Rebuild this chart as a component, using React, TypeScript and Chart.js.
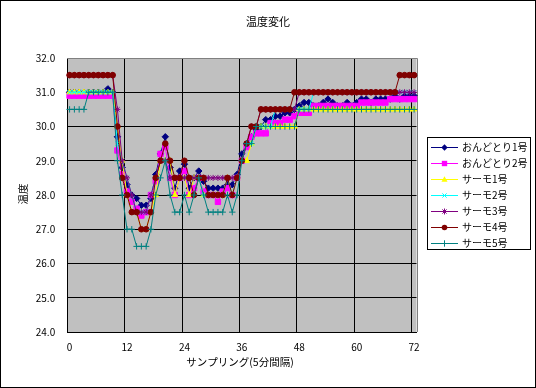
import React, { useEffect, useRef } from 'react';
import { Chart, registerables } from 'chart.js';

Chart.register(...registerables);

const categories: string[] = Array.from({ length: 73 }, (_, i) => String(i));

const seriesNames = ['おんどとり1号', 'おんどとり2号', 'サーモ1号', 'サーモ2号', 'サーモ3号', 'サーモ4号', 'サーモ5号'];
const seriesColors = ['#000080', '#FF00FF', '#FFFF00', '#00FFFF', '#800080', '#800000', '#008080'];
const seriesMarkers = ['rectRot', 'rect', 'triangle', 'crossRot', 'star', 'circle', 'cross'];
const markerRadius = [3.2, 3.8, 3.2, 3, 3, 2.8, 3.2];

const ondotori1 = [
  31.0, 31.0, 31.0, 31.0, 31.0, 31.0, 31.0, 31.0, 31.1, 31.0,
  29.7, 28.8, 28.3, 28.0, 27.9, 27.7, 27.7, 27.9, 28.6, 29.2, 29.7, 28.8, 28.2, 28.7, 28.9,
  28.2, 28.5, 28.7, 28.4, 28.2, 28.2, 28.2, 28.2, 28.3, 28.3, 28.6,
  29.2, 29.5, 29.7, 29.9, 30.0, 30.2, 30.2, 30.3, 30.3, 30.4, 30.4, 30.5, 30.6, 30.7, 30.7,
  30.6, 30.6, 30.7, 30.8, 30.7, 30.6, 30.6, 30.7, 30.6, 30.7, 30.8, 30.8, 30.7, 30.8, 30.8,
  30.8, 30.8, 30.9, 30.8, 30.9, 30.9, 30.9,
];
const ondotori2 = [
  30.9, 30.9, 30.9, 30.9, 30.9, 30.9, 30.9, 30.9, 30.9, 30.9,
  29.3, 28.6, 28.1, 27.8, 27.6, 27.4, 27.5, 28.0, 28.4, 29.2, 29.4, 28.5, 28.0, 28.5, 28.7,
  28.0, 28.2, 28.5, 28.1, 28.0, 28.0, 27.8, 28.1, 28.2, 28.0, 28.5,
  29.0, 29.4, 29.7, 29.8, 29.8, 29.8, 30.1, 30.1, 30.1, 30.2, 30.2, 30.3, 30.4, 30.4, 30.4,
  30.6, 30.6, 30.6, 30.6, 30.6, 30.6, 30.6, 30.6, 30.6, 30.6,
  30.7, 30.7, 30.7, 30.7, 30.7, 30.7,
  30.8, 30.8, 30.8, 30.8, 30.8, 30.8,
];
const thermo1 = [
  31.0, 31.0, 31.0, 31.0, 31.0, 31.0, 31.0, 31.0, 31.0, 31.0,
  30.0, 29.0, 28.0, 27.5, 27.5, 27.0, 27.0, 27.5, 28.0, 29.0, 29.0, 29.0, 28.0, 28.5, 28.5,
  28.0, 28.5, 28.5, 28.0, 28.0, 28.0, 28.0, 28.0, 28.5, 28.0, 28.5,
  29.0, 29.0, 29.5, 30.0, 30.0, 30.0, 30.0, 30.0, 30.0, 30.0, 30.0, 30.0,
  30.5, 30.5, 30.5, 30.5, 30.5, 30.5, 30.5, 30.5, 30.5, 30.5, 30.5, 30.5, 30.5,
  30.5, 30.5, 30.5, 30.5, 30.5, 30.5, 30.5, 30.5, 30.5, 30.5, 30.5, 30.5,
];
const thermo2 = [
  31.0, 31.0, 31.0, 31.0, 31.0, 31.0, 31.0, 31.0, 31.0, 31.0,
  29.5, 29.0, 28.5, 28.0, 27.5, 27.5, 27.5, 28.0, 28.5, 29.0, 29.0, 28.5, 28.5, 28.5, 28.5,
  28.5, 28.5, 28.5, 28.0, 28.0, 28.0, 28.0, 28.0, 28.5, 28.0, 28.5,
  29.0, 29.5, 29.5, 30.0, 30.0, 30.0, 30.0,
  30.5, 30.5, 30.5, 30.5, 30.5, 30.5, 30.5, 30.5,
  31.0, 31.0, 31.0, 31.0, 31.0, 31.0, 31.0, 31.0, 31.0, 31.0, 31.0,
  31.0, 31.0, 31.0, 31.0, 31.0, 31.0, 31.0, 31.0, 31.0, 31.0, 31.0,
];
const thermo3 = [
  31.5, 31.5, 31.5, 31.5, 31.5, 31.5, 31.5, 31.5, 31.5, 31.5,
  30.5, 29.0, 28.5, 28.0, 27.5, 27.5, 27.5, 28.0, 28.5, 29.0, 29.0, 28.5, 28.5, 28.5, 28.5,
  28.5, 28.5, 28.5, 28.5, 28.5, 28.5, 28.5, 28.5, 28.5, 28.5, 28.5,
  29.0, 29.5, 30.0, 30.0,
  30.5, 30.5, 30.5, 30.5, 30.5, 30.5, 30.5, 30.5,
  31.0, 31.0, 31.0, 31.0, 31.0, 31.0, 31.0, 31.0, 31.0, 31.0, 31.0, 31.0, 31.0,
  31.0, 31.0, 31.0, 31.0, 31.0, 31.0, 31.0, 31.0, 31.0, 31.0, 31.0, 31.0,
];
const thermo4 = [
  31.5, 31.5, 31.5, 31.5, 31.5, 31.5, 31.5, 31.5, 31.5, 31.5,
  30.0, 28.5, 28.0, 27.5, 27.5, 27.0, 27.0, 27.5, 28.5, 29.0, 29.5, 29.0, 28.5, 28.5, 29.0,
  28.5, 28.0, 28.5, 28.5, 28.0, 28.0, 28.0, 28.0, 28.5, 28.0, 28.5,
  29.0, 29.5, 30.0, 30.0,
  30.5, 30.5, 30.5, 30.5, 30.5, 30.5, 30.5,
  31.0, 31.0, 31.0, 31.0, 31.0, 31.0, 31.0, 31.0, 31.0, 31.0, 31.0,
  31.0, 31.0, 31.0, 31.0, 31.0, 31.0, 31.0, 31.0, 31.0, 31.0, 31.0,
  31.5, 31.5, 31.5, 31.5,
];
const thermo5 = [
  30.5, 30.5, 30.5, 30.5, 31.0, 31.0, 31.0, 31.0, 31.0, 31.0,
  29.0, 28.0, 27.0, 27.0, 26.5, 26.5, 26.5, 27.0, 28.0, 28.5, 29.0, 28.0, 27.5, 27.5, 28.0,
  27.5, 28.0, 28.5, 28.0, 27.5, 27.5, 27.5, 27.5, 28.0, 27.5, 28.0,
  29.0, 29.5, 29.5,
  30.0, 30.0, 30.0, 30.0, 30.0, 30.0, 30.0, 30.0, 30.0,
  30.5, 30.5, 30.5, 30.5, 30.5, 30.5, 30.5, 30.5, 30.5, 30.5, 30.5, 30.5, 30.5,
  30.5, 30.5, 30.5, 30.5, 30.5, 30.5, 30.5, 30.5, 30.5, 30.5, 30.5, 30.5,
];

const seriesData = [ondotori1, ondotori2, thermo1, thermo2, thermo3, thermo4, thermo5];

const titleText = '温度変化';
const xTitleText = 'サンプリング(5分間隔)';
const yTitleText = '温度';

const JP_FONT = '"Noto Sans CJK JP", "Noto Sans", sans-serif';

function drawMarker(ctx: CanvasRenderingContext2D, style: string, x: number, y: number, r: number, color: string) {
  ctx.save();
  ctx.fillStyle = color;
  ctx.strokeStyle = color;
  ctx.lineWidth = 1;
  ctx.beginPath();
  switch (style) {
    case 'rectRot':
      ctx.moveTo(x, y - r); ctx.lineTo(x + r, y); ctx.lineTo(x, y + r); ctx.lineTo(x - r, y); ctx.closePath(); ctx.fill();
      break;
    case 'rect': {
      const s = r * Math.SQRT1_2;
      ctx.rect(x - s, y - s, 2 * s, 2 * s); ctx.fill();
      break;
    }
    case 'triangle':
      ctx.moveTo(x, y - r); ctx.lineTo(x + r * 0.95, y + r * 0.7); ctx.lineTo(x - r * 0.95, y + r * 0.7); ctx.closePath(); ctx.fill();
      break;
    case 'crossRot': {
      const s = r * Math.SQRT1_2;
      ctx.moveTo(x - s, y - s); ctx.lineTo(x + s, y + s); ctx.moveTo(x + s, y - s); ctx.lineTo(x - s, y + s); ctx.stroke();
      break;
    }
    case 'star': {
      const s = r * Math.SQRT1_2;
      ctx.moveTo(x - s, y - s); ctx.lineTo(x + s, y + s); ctx.moveTo(x + s, y - s); ctx.lineTo(x - s, y + s);
      ctx.moveTo(x, y - r); ctx.lineTo(x, y + r); ctx.stroke();
      break;
    }
    case 'circle':
      ctx.arc(x, y, r, 0, Math.PI * 2); ctx.fill();
      break;
    case 'cross':
      ctx.moveTo(x - r, y); ctx.lineTo(x + r, y); ctx.moveTo(x, y - r); ctx.lineTo(x, y + r); ctx.stroke();
      break;
  }
  ctx.restore();
}

const excelPlugin = {
  id: 'excelDecor',
  beforeDraw(chart: any) {
    const { ctx, chartArea, width, height } = chart;
    ctx.save();
    ctx.fillStyle = '#FFFFFF';
    ctx.fillRect(0, 0, width, height);
    ctx.fillStyle = '#C0C0C0';
    ctx.fillRect(chartArea.left, chartArea.top, chartArea.right - chartArea.left, chartArea.bottom - chartArea.top);
    ctx.restore();
  },
  beforeDatasetsDraw(chart: any) {
    const { ctx, chartArea } = chart;
    ctx.save();
    ctx.strokeStyle = '#808080';
    ctx.lineWidth = 1;
    ctx.beginPath();
    const r = Math.round(chartArea.right) + 0.5;
    const t = Math.round(chartArea.top) + 0.5;
    ctx.moveTo(Math.round(chartArea.left), t);
    ctx.lineTo(r, t);
    ctx.lineTo(r, Math.round(chartArea.bottom));
    ctx.stroke();
    ctx.restore();
  },
  afterDraw(chart: any) {
    const { ctx, width, height } = chart;
    ctx.save();
    ctx.strokeStyle = '#000';
    ctx.lineWidth = 1;
    ctx.strokeRect(0.5, 0.5, width - 1, height - 1);

    ctx.fillStyle = '#000';
    ctx.textAlign = 'center';
    ctx.textBaseline = 'middle';
    ctx.font = `11px ${JP_FONT}`;
    ctx.fillText(titleText, 268, 22);
    ctx.font = `10.5px ${JP_FONT}`;
    ctx.fillText(xTitleText, 240, 362);
    ctx.save();
    ctx.translate(23, 194);
    ctx.rotate(-Math.PI / 2);
    ctx.fillText(yTitleText, 0, 0);
    ctx.restore();

    // legend
    const lx = 427.5, ly = 137.5, lw = 103, lh = 112;
    ctx.fillStyle = '#FFFFFF';
    ctx.fillRect(lx, ly, lw, lh);
    ctx.strokeStyle = '#000';
    ctx.strokeRect(lx, ly, lw, lh);
    ctx.font = `10px ${JP_FONT}`;
    ctx.textAlign = 'left';
    for (let i = 0; i < seriesNames.length; i++) {
      const y = Math.round(146.7 + i * 16.1) + 0.5;
      ctx.strokeStyle = seriesColors[i];
      ctx.lineWidth = 1;
      ctx.beginPath();
      ctx.moveTo(431, y);
      ctx.lineTo(458, y);
      ctx.stroke();
      drawMarker(ctx, seriesMarkers[i], 444.5, y, markerRadius[i], seriesColors[i]);
      ctx.fillStyle = '#000';
      ctx.fillText(seriesNames[i], 462, y);
    }
    ctx.restore();
  },
};

export default function App() {
  const ref = useRef<HTMLCanvasElement>(null);
  useEffect(() => {
    document.body.style.margin = '0';
    const canvas = ref.current!;
    const chart = new Chart(canvas, {
      type: 'line',
      data: {
        labels: categories,
        datasets: seriesData.map((d, i) => ({
          label: seriesNames[i],
          data: d,
          borderColor: seriesColors[i],
          backgroundColor: seriesColors[i],
          pointBackgroundColor: seriesColors[i],
          pointBorderColor: seriesColors[i],
          pointStyle: seriesMarkers[i] as any,
          pointRadius: markerRadius[i],
          pointBorderWidth: 1,
          borderWidth: 1,
          tension: 0,
          fill: false,
          order: -i,
          clip: false as any,
        })),
      },
      options: {
        responsive: false,
        animation: false,
        devicePixelRatio: 1,
        layout: { padding: { left: 0, top: 58, right: 119.5, bottom: 0 } },
        plugins: {
          legend: { display: false },
          title: { display: false },
          tooltip: { enabled: false },
        },
        scales: {
          x: {
            type: 'category',
            offset: true,
            grid: {
              offset: true,
              drawTicks: false,
              color: (c: any) => (c.index % 12 === 0 && c.index < 73 ? '#000000' : 'rgba(0,0,0,0)'),
              lineWidth: 1,
            },
            border: { display: true, color: '#000000', width: 1 },
            ticks: {
              autoSkip: false,
              maxRotation: 0,
              minRotation: 0,
              padding: 9,
              color: '#000',
              font: { family: JP_FONT, size: 10 },
              callback: (_v: any, index: number) => (index % 12 === 0 ? categories[index] : ''),
            },
            afterFit: (scale: any) => { scale.height = 56; },
          },
          y: {
            type: 'linear',
            min: 24,
            max: 32,
            grid: {
              drawTicks: false,
              color: (c: any) => (c.tick && c.tick.value === 32 ? '#808080' : '#000000'),
              lineWidth: 1,
            },
            border: { display: true, color: '#000000', width: 1 },
            ticks: {
              stepSize: 1,
              padding: 12,
              color: '#000',
              font: { family: JP_FONT, size: 10 },
              callback: (v: any) => Number(v).toFixed(1),
            },
            afterFit: (scale: any) => { scale.width = 67.2; },
          },
        },
      },
      plugins: [excelPlugin],
    });
    return () => chart.destroy();
  }, []);
  return (
    <div style={{ width: 536, height: 388 }}>
      <canvas ref={ref} width={536} height={388} style={{ display: 'block' }} />
    </div>
  );
}
